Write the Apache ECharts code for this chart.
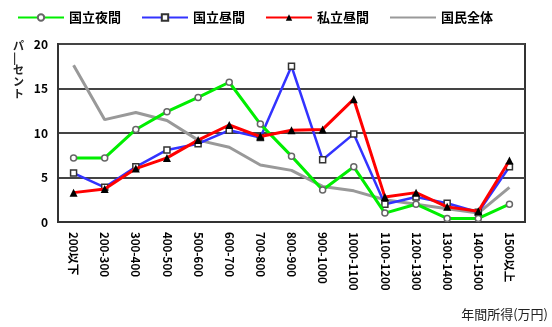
<!DOCTYPE html>
<html>
<head>
<meta charset="utf-8">
<script src="https://cdn.jsdelivr.net/npm/echarts@6/dist/echarts.min.js"></script>
<style>
html,body{margin:0;padding:0;background:#fff;}
#main{width:552px;height:327px;}
</style>
</head>
<body>
<div id="main"></div>
<script>
var categories = ['200以下','200-300','300-400','400-500','500-600','600-700','700-800','800-900','900-1000','1000-1100','1100-1200','1200-1300','1300-1400','1400-1500','1500以上'];
var nightNational = [7.2, 7.2, 10.4, 12.4, 14.0, 15.7, 11.0, 7.4, 3.6, 6.2, 1.0, 2.0, 0.4, 0.4, 2.0];
var dayNational = [5.5, 3.9, 6.2, 8.1, 8.8, 10.3, 9.5, 17.5, 7.0, 9.9, 2.0, 2.8, 2.1, 1.1, 6.2];
var dayPrivate = [3.3, 3.7, 6.0, 7.2, 9.2, 10.9, 9.6, 10.3, 10.4, 13.8, 2.8, 3.3, 1.7, 1.2, 6.9];
var allPeople = [17.6, 11.5, 12.3, 11.4, 9.2, 8.4, 6.4, 5.8, 4.0, 3.5, 2.5, 2.0, 1.5, 1.0, 3.9];
var yTicks = [0, 20, 5];

var myChart = echarts.init(document.getElementById('main'));
var font = '"Noto Sans CJK JP", sans-serif';

var option = {
    animation: false,
    backgroundColor: '#FFFFFF',
    textStyle: { fontFamily: font },
    legend: {
        top: 6,
        left: 12,
        itemWidth: 46,
        itemHeight: 8,
        itemGap: 20,
        textStyle: { fontFamily: font, fontWeight: 'bold', fontSize: 13, color: '#000' },
        data: ['国立夜間', '国立昼間', '私立昼間', { name: '国民全体', itemStyle: { opacity: 0 } }]
    },
    grid: { left: 58, right: 27, top: 44, bottom: 105 },
    xAxis: {
        type: 'category',
        data: categories,
        boundaryGap: true,
        axisLine: { lineStyle: { color: '#333', width: 2 } },
        axisTick: { inside: true, length: 6, lineStyle: { color: '#222', width: 2 } },
        axisLabel: {
            rotate: -90,
            interval: 0,
            margin: 10,
            fontFamily: font,
            fontWeight: 'bold',
            fontSize: 11.5,
            color: '#000'
        }
    },
    yAxis: {
        type: 'value',
        min: yTicks[0],
        max: yTicks[1],
        interval: yTicks[2],
        axisLine: { show: true, lineStyle: { color: '#333', width: 2 } },
        axisTick: { show: false },
        splitLine: { lineStyle: { color: '#444', width: 2 } },
        axisLabel: { fontFamily: font, fontWeight: 'bold', fontSize: 12, color: '#000', margin: 10 }
    },
    graphic: [
        {
            type: 'rect',
            shape: { x: 58, y: 44, width: 467, height: 178 },
            style: { fill: 'none', stroke: '#333', lineWidth: 2 },
            silent: true
        },
        {
            type: 'text',
            left: 13,
            top: 40,
            style: {
                text: 'パ\n|\nセ\nン\nト',
                fontFamily: font,
                fontWeight: 'bold',
                fontSize: 11,
                lineHeight: 12,
                fill: '#222',
                align: 'center'
            }
        },
        {
            type: 'text',
            right: 4,
            bottom: 6,
            style: {
                text: '年間所得(万円)',
                fontFamily: font,
                fontSize: 13,
                fill: '#222'
            }
        }
    ],
    series: [
        {
            name: '国立夜間',
            type: 'line',
            data: nightNational,
            z: 4,
            symbol: 'circle',
            symbolSize: 6,
            lineStyle: { color: '#00ee00', width: 3 },
            itemStyle: { color: '#ffffff', borderColor: '#666', borderWidth: 1.5 }
        },
        {
            name: '国立昼間',
            type: 'line',
            data: dayNational,
            z: 3,
            symbol: 'rect',
            symbolSize: 6,
            lineStyle: { color: '#3333ff', width: 2.5 },
            itemStyle: { color: '#ffffff', borderColor: '#333', borderWidth: 1.5 }
        },
        {
            name: '私立昼間',
            type: 'line',
            data: dayPrivate,
            z: 5,
            symbol: 'triangle',
            symbolSize: 8,
            lineStyle: { color: '#ff0000', width: 3 },
            itemStyle: { color: '#000000', borderColor: '#000', borderWidth: 0 }
        },
        {
            name: '国民全体',
            type: 'line',
            data: allPeople,
            z: 2,
            symbol: 'none',
            lineStyle: { color: '#999999', width: 3 },
            itemStyle: { color: '#999999' }
        }
    ]
};
myChart.setOption(option);
</script>
</body>
</html>
